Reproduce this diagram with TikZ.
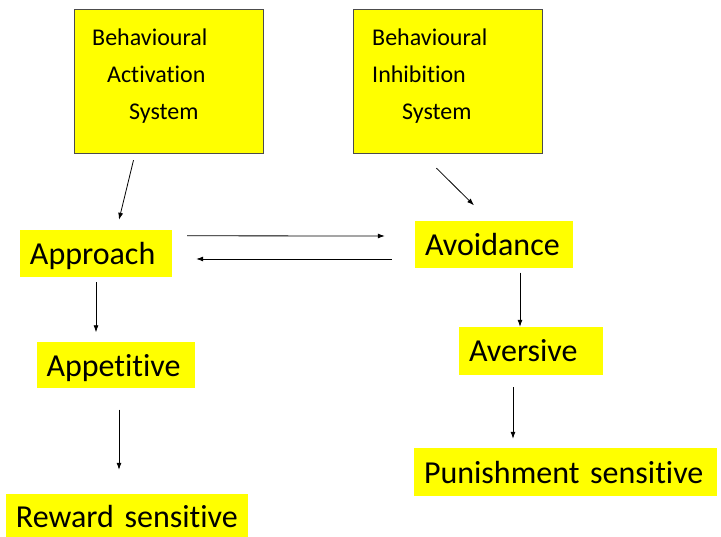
\documentclass[tikz,border=0pt]{standalone}
\usepackage{fontspec}
\setmainfont{Carlito}[Ligatures=CommonOff]
\usetikzlibrary{arrows.meta}
\definecolor{hiyellow}{RGB}{255,255,0}
\tikzset{
  sysbox/.style={draw=black!70,fill=hiyellow,minimum width=189pt,minimum height=144pt,inner sep=0pt},
  systext/.style={font=\fontsize{24}{37}\selectfont,align=left,anchor=north west,inner sep=0pt},
  lbl/.style={fill=hiyellow,font=\fontsize{32}{36}\selectfont,align=left,inner xsep=10pt,inner ysep=0pt,
    text height=28pt,text depth=6pt,minimum height=47pt},
  arr/.style={-{Latex[length=7pt,width=5pt]},black,line width=0.8pt}
}
\begin{document}
\begin{tikzpicture}[x=1pt,y=-1pt]
\useasboundingbox (0,0) rectangle (721,537);
% system boxes
\node[sysbox] (bas) at (168.5,81) {};
\node[systext] (bastext) at (92,29) {Behavioural\\\hspace*{15pt}Activation\\\hspace*{37pt}System};
\node[sysbox] (bis) at (447.5,81) {};
\node[systext] (bistext) at (372,29) {Behavioural\\Inhibition\\\hspace*{30pt}System};
% yellow labels
\node[lbl,text width=132pt] (approach) at (96,253.5) {Approach};
\node[lbl,text width=138pt] (avoidance) at (494,245) {Avoidance};
\node[lbl,text width=138pt,minimum height=46pt] (appetitive) at (115.5,365.5) {Appetitive};
\node[lbl,text width=124pt,minimum height=48pt] (aversive) at (531,351) {Aversive};
\node[lbl,text width=283pt,minimum height=48pt] (punish) at (565.5,472) {Punishment sensitive};
\node[lbl,text width=222pt,minimum height=44pt] (reward) at (127,516) {Reward sensitive};
% connectors
\draw[arr] ([xshift=-35pt,yshift=-7pt]bas.south) -- ([xshift=23pt,yshift=10pt]approach.north);
\draw[arr] ([xshift=-11pt,yshift=-15pt]bis.south) -- ([xshift=-20pt,yshift=16pt]avoidance.north);
\draw[arr] ([xshift=15pt,yshift=-6pt]approach.north east) -- ([xshift=-30pt,yshift=9pt]avoidance.west);
\draw[arr] ([xshift=-23pt,yshift=-14pt]avoidance.west) -- ([xshift=24pt,yshift=-5.5pt]approach.east);
\draw[arr] ([yshift=-5pt]approach.south) -- ([xshift=-19.5pt,yshift=10pt]appetitive.north);
\draw[arr] ([xshift=3.5pt,yshift=-21pt]appetitive.south) -- ([xshift=-8pt,yshift=24pt]reward.north);
\draw[arr] ([xshift=26pt,yshift=-4pt]avoidance.south) -- ([xshift=-11pt,yshift=0pt]aversive.north);
\draw[arr] ([xshift=-18pt,yshift=-12pt]aversive.south) -- ([xshift=-52.5pt,yshift=9pt]punish.north);
\end{tikzpicture}
\end{document}
